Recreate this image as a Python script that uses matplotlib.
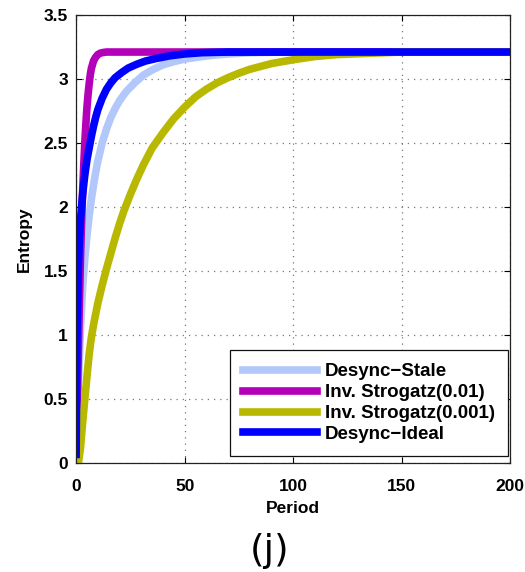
import matplotlib
matplotlib.use("Agg")
import matplotlib.pyplot as plt

plt.rcParams['font.family'] = ['Liberation Sans', 'DejaVu Sans']

# Desync-Stale
stale_t = [0, 1, 2, 3, 4, 5, 6, 7, 8, 9, 10, 12, 14, 16, 18, 20, 23, 27, 31, 35, 40, 45,
           50, 56, 63, 70, 80, 95, 200]
stale_v = [0, 0.6, 1.05, 1.38, 1.6, 1.78, 1.93, 2.06, 2.17, 2.27, 2.36, 2.5, 2.61, 2.7,
           2.77, 2.83, 2.9, 2.97, 3.03, 3.07, 3.11, 3.135, 3.155, 3.17, 3.185, 3.195,
           3.205, 3.21, 3.21]

# Inv. Strogatz(0.01)
s01_t = [0, 0.5, 1, 1.5, 2, 2.5, 3, 3.5, 4, 4.5, 5, 5.5, 6, 6.5, 7, 7.5, 8, 9, 10, 11,
         12, 14, 200]
s01_v = [0, 0.45, 0.85, 1.25, 1.6, 1.88, 2.12, 2.32, 2.5, 2.65, 2.78, 2.88, 2.96, 3.03,
         3.08, 3.11, 3.14, 3.17, 3.19, 3.2, 3.205, 3.21, 3.21]

# Inv. Strogatz(0.001)
s001_t = [1, 2, 3, 4, 5, 6, 7, 8, 10, 12, 14, 16, 18, 20, 22, 25, 28, 31, 35, 40, 45, 50,
          55, 60, 65, 70, 75, 80, 90, 100, 110, 120, 135, 150, 200]
s001_v = [0, 0.12, 0.32, 0.5, 0.68, 0.85, 0.98, 1.08, 1.25, 1.39, 1.52, 1.64, 1.76, 1.87,
          1.97, 2.1, 2.22, 2.33, 2.46, 2.58, 2.69, 2.78, 2.86, 2.92, 2.97, 3.01, 3.045,
          3.075, 3.12, 3.15, 3.175, 3.19, 3.2, 3.21, 3.21]

# Desync-Ideal
ideal_t = [0, 0.4, 1, 1.5, 2, 3, 4, 5, 6, 7, 8, 9, 10, 12, 14, 16, 18, 21, 24, 28, 32,
           37, 43, 50, 58, 70, 200]
ideal_v = [0.07, 1.0, 1.5, 1.75, 1.9, 2.1, 2.25, 2.37, 2.46, 2.55, 2.63, 2.7, 2.76, 2.85,
           2.92, 2.97, 3.01, 3.05, 3.085, 3.115, 3.14, 3.16, 3.18, 3.195, 3.205, 3.21, 3.21]

fig = plt.figure(figsize=(5.25, 5.72), dpi=100)
ax = fig.add_axes([0.145, 0.19, 0.827, 0.784])

lw = 5.5
ax.plot(stale_t, stale_v, color='#b3c8fa', lw=lw, label='Desync\u2212Stale')
ax.plot(s01_t, s01_v, color='#b400b8', lw=lw, label='Inv. Strogatz(0.01)')
ax.plot(s001_t, s001_v, color='#b8b800', lw=lw, label='Inv. Strogatz(0.001)')
ax.plot(ideal_t, ideal_v, color='#0000ff', lw=lw, label='Desync\u2212Ideal')

ax.set_xlim(0, 200)
ax.set_ylim(0, 3.5)
ax.set_xticks([0, 50, 100, 150, 200])
ax.set_yticks([0, 0.5, 1, 1.5, 2, 2.5, 3, 3.5])
ax.set_yticklabels(['0', '0.5', '1', '1.5', '2', '2.5', '3', '3.5'])
ax.grid(True, color='#777777', linestyle=(0, (1, 4)), lw=0.9)
ax.tick_params(direction='in', top=True, right=True, length=4, width=0.8,
               labelsize=12.5)
ax.tick_params(axis='x', pad=11)
ax.tick_params(axis='y', pad=6)
for lab in ax.get_xticklabels() + ax.get_yticklabels():
    lab.set_fontweight('bold')
for sp in ax.spines.values():
    sp.set_color('#222222')
    sp.set_linewidth(0.9)

ax.set_xlabel('Period', fontsize=12.5, fontweight='bold', labelpad=5)
ax.set_ylabel('Entropy', fontsize=12.5, fontweight='bold', labelpad=8)

leg = ax.legend(loc='lower right', bbox_to_anchor=(0.995, 0.016),
                prop={'weight': 'bold', 'size': 13.5},
                fancybox=False, edgecolor='#111111', framealpha=1,
                handlelength=3.9, labelspacing=0.2, borderpad=0.7,
                handletextpad=0.45, borderaxespad=0)
leg.get_frame().set_linewidth(0.9)

fig.text(0.514, 0.036, '(j)', ha='center', va='center', fontsize=27,
         family='DejaVu Sans')

fig.savefig('out.png', dpi=100)
